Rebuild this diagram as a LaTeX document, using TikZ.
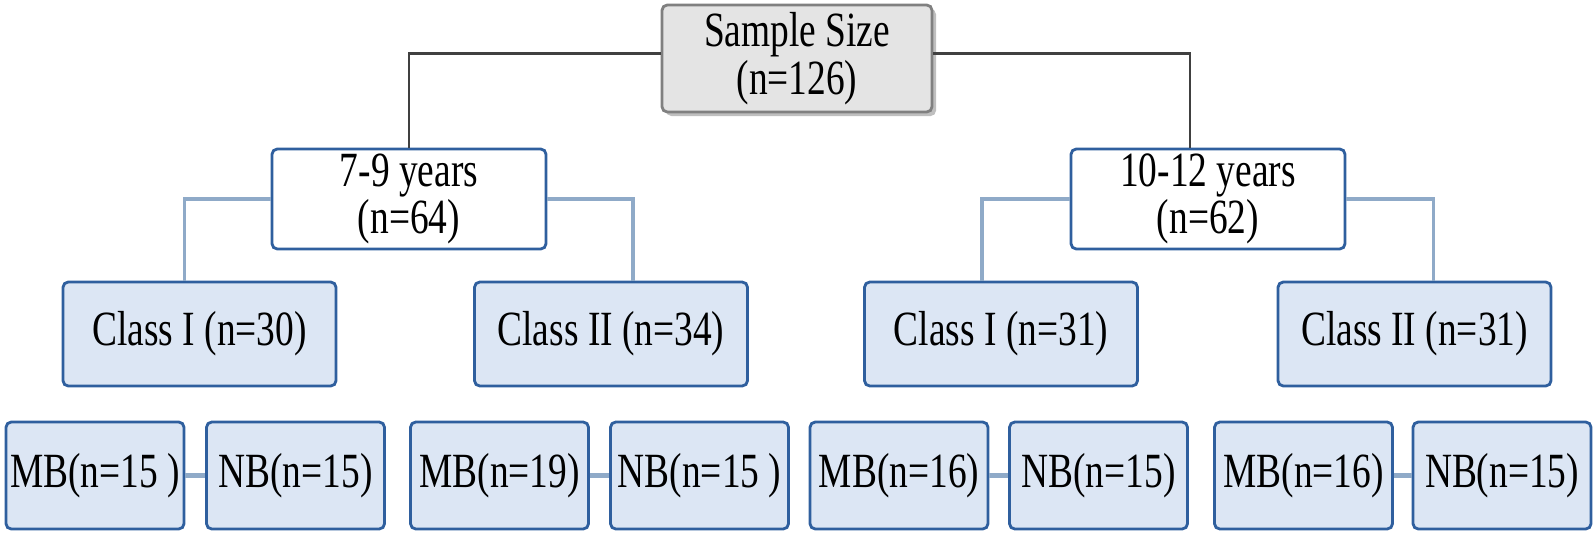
\documentclass[tikz,border=0pt]{standalone}
\usepackage{fontspec}
\setmainfont{Liberation Serif}[FakeStretch=0.76]
\usetikzlibrary{shadows}

\definecolor{boxgray}{HTML}{E4E4E4}
\definecolor{edgegray}{HTML}{808080}
\definecolor{boxblue}{HTML}{DCE6F4}
\definecolor{edgeblue}{HTML}{2F5F9E}
\definecolor{linkblue}{HTML}{8FAAC8}

\begin{document}
\begin{tikzpicture}[
  base/.style={rounded corners=1.5pt, line width=0.8pt, align=center, inner sep=0pt,
    font=\fontsize{14}{13.5}\selectfont},
  topbox/.style={base, draw=edgegray, fill=boxgray, minimum width=2.7cm, minimum height=1.07cm,
    drop shadow={shadow xshift=0.4mm, shadow yshift=-0.4mm, fill=gray, opacity=0.5}},
  agebox/.style={base, draw=edgeblue, fill=white, minimum width=2.74cm, minimum height=1cm},
  classbox/.style={base, draw=edgeblue, fill=boxblue, minimum width=2.73cm, minimum height=1.04cm},
  groupbox/.style={base, draw=edgeblue, fill=boxblue, minimum width=1.78cm, minimum height=1.07cm},
  trunk/.style={draw=darkgray, line width=0.8pt},
  branch/.style={draw=linkblue, line width=1.1pt},
  link/.style={draw=linkblue, line width=1.6pt}
]

\useasboundingbox (0,0) rectangle (15.94,-5.34);

% Sample size
\node[topbox] (total) at (7.97,-0.585) {Sample Size\\(n=126)};

% Age groups
\node[agebox] (age1) at (4.09,-1.99) {7-9 years\\(n=64)};
\node[agebox] (age2) at (12.08,-1.99) {10-12 years\\(n=62)};

% Classes
\node[classbox] (cls1) at (1.995,-3.34) {Class I (n=30)};
\node[classbox] (cls2) at (6.11,-3.34) {Class II (n=34)};
\node[classbox] (cls3) at (10.01,-3.34) {Class I (n=31)};
\node[classbox] (cls4) at (14.145,-3.34) {Class II (n=31)};

% MB and NB groups
\node[groupbox] (mb1) at (0.95,-4.755) {MB(n=15 )};
\node[groupbox] (nb1) at (2.955,-4.755) {NB(n=15)};
\node[groupbox] (mb2) at (4.995,-4.755) {MB(n=19)};
\node[groupbox] (nb2) at (6.995,-4.755) {NB(n=15 )};
\node[groupbox] (mb3) at (8.99,-4.755) {MB(n=16)};
\node[groupbox] (nb3) at (10.985,-4.755) {NB(n=15)};
\node[groupbox] (mb4) at (13.035,-4.755) {MB(n=16)};
\node[groupbox] (nb4) at (15.02,-4.755) {NB(n=15)};

% Sample size to age groups
\draw[trunk] ([yshift=0.5mm]total.west) -| (age1.north);
\draw[trunk] ([yshift=0.5mm]total.east) -| ([xshift=-1.8mm]age2.north);

% Age groups to classes
\draw[branch] (age1.west) -| ([xshift=-1.5mm]cls1.north);
\draw[branch] (age1.east) -| ([xshift=2.2mm]cls2.north);
\draw[branch] (age2.west) -| ([xshift=-1.9mm]cls3.north);
\draw[branch] (age2.east) -| ([xshift=1.9mm]cls4.north);

% MB -- NB
\draw[link] (mb1) -- (nb1);
\draw[link] (mb2) -- (nb2);
\draw[link] (mb3) -- (nb3);
\draw[link] (mb4) -- (nb4);

\end{tikzpicture}
\end{document}
